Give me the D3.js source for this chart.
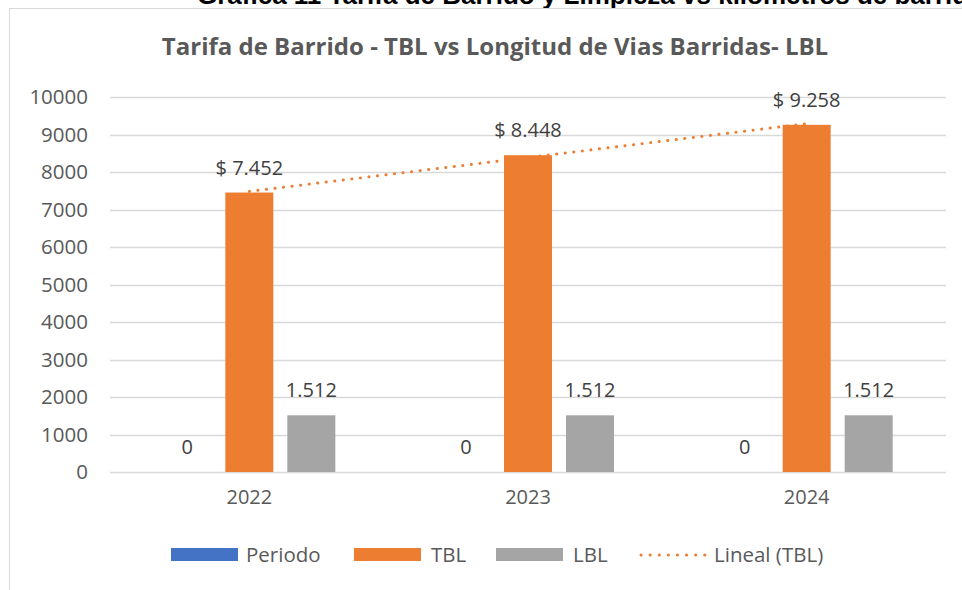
<!DOCTYPE html>
<meta charset="utf-8">
<script src="https://d3js.org/d3.v7.min.js"></script>
<style>
  body { margin: 0; background: #fff; }
  text { font-family: "Open Sans", sans-serif; }
</style>
<svg id="chart" width="962" height="590"></svg>
<script>
// values
var years = ["2022", "2023", "2024"];
var series = ["Periodo", "TBL", "LBL"];
var periodo = [0, 0, 0];
var tbl = [7452, 8448, 9258];
var lbl = [1512, 1512, 1512];
var yTicks = [0, 1000, 2000, 3000, 4000, 5000, 6000, 7000, 8000, 9000, 10000];

var colors = {Periodo: "#4472C4", TBL: "#ED7D31", LBL: "#A5A5A5"};
var values = {Periodo: periodo, TBL: tbl, LBL: lbl};

var svg = d3.select("#chart");

// heading of the document above the chart, cut off by the page top
svg.append("text")
    .attr("x", 197)
    .attr("y", 4)
    .style("font-family", "'Liberation Sans', Arial, sans-serif")
    .style("font-weight", "bold")
    .style("font-size", "26px")
    .attr("fill", "#000")
    .text("Gráfica 11 Tarifa de Barrido y Limpieza vs kilómetros de barrido");

// chart frame
svg.append("rect")
    .attr("x", 9.5).attr("y", 8.5)
    .attr("width", 990).attr("height", 600)
    .attr("fill", "#fff")
    .attr("stroke", "#D9D9D9");

// title
svg.append("text")
    .attr("x", 495)
    .attr("y", 55)
    .attr("text-anchor", "middle")
    .style("font-weight", "bold")
    .style("font-size", "24px")
    .attr("fill", "#595959")
    .text("Tarifa de Barrido - TBL vs Longitud de Vias Barridas- LBL");

var x = d3.scaleBand().domain(years).range([110, 946]);
var inner = d3.scaleBand().domain(series).range([0, 172]).paddingInner(14 / 62);
var y = d3.scaleLinear().domain([0, 10000]).range([472, 97]);

var es = d3.formatLocale({decimal: ",", thousands: ".", grouping: [3], currency: ["$ ", ""]});
var fmt = es.format(",d");

// gridlines
svg.append("g")
  .selectAll("line")
  .data(yTicks)
  .join("line")
    .attr("x1", 110).attr("x2", 946)
    .attr("y1", function (d) { return Math.round(y(d)) + 0.5; })
    .attr("y2", function (d) { return Math.round(y(d)) + 0.5; })
    .attr("stroke", "#D9D9D9")
    .attr("stroke-width", 1.5);

// y axis labels
var yAxis = svg.append("g")
    .attr("transform", "translate(94,0)")
    .call(d3.axisLeft(y).tickValues(yTicks).tickSize(0).tickPadding(6).tickFormat(d3.format("d")));
yAxis.select(".domain").remove();
yAxis.selectAll("text")
    .style("font-family", "'Open Sans', sans-serif")
    .style("font-size", "20.5px")
    .attr("fill", "#595959");

// x axis labels
var xAxis = svg.append("g")
    .attr("transform", "translate(0,472)")
    .call(d3.axisBottom(x).tickSize(0).tickPadding(18));
xAxis.select(".domain").remove();
xAxis.selectAll("text")
    .style("font-family", "'Open Sans', sans-serif")
    .style("font-size", "20px")
    .attr("fill", "#595959");

// bars
var groupOffset = (x.bandwidth() - 172) / 2;
var groups = svg.append("g")
  .selectAll("g")
  .data(years)
  .join("g")
    .attr("transform", function (d) { return "translate(" + (x(d) + groupOffset) + ",0)"; });

groups.each(function (yr, i) {
  var g = d3.select(this);
  series.forEach(function (s) {
    var v = values[s][i];
    g.append("rect")
        .attr("x", inner(s))
        .attr("y", y(v))
        .attr("width", inner.bandwidth())
        .attr("height", y(0) - y(v))
        .attr("fill", colors[s]);
    g.append("text")
        .attr("x", inner(s) + inner.bandwidth() / 2)
        .attr("y", y(v) - 18)
        .attr("text-anchor", "middle")
        .style("font-size", "20px")
        .attr("fill", "#404040")
        .text(s === "TBL" ? "$ " + fmt(v) : fmt(v));
  });
});

// linear trendline of TBL
var n = tbl.length;
var xs = d3.range(1, n + 1);
var mx = d3.mean(xs), my = d3.mean(tbl);
var slope = d3.sum(xs, function (d, i) { return (d - mx) * (tbl[i] - my); }) /
            d3.sum(xs, function (d) { return (d - mx) * (d - mx); });
var icpt = my - slope * mx;
var trend = years.map(function (yr, i) {
  return [x(yr) + x.bandwidth() / 2, y(icpt + slope * (i + 1))];
});
svg.append("path")
    .attr("d", d3.line()(trend))
    .attr("fill", "none")
    .attr("stroke", "#ED7D31")
    .attr("stroke-width", 3)
    .attr("stroke-linecap", "round")
    .attr("stroke-dasharray", "0.1 8.5");

// legend
var legend = [
  {name: "Periodo", x: 171, tx: 246, kind: "rect"},
  {name: "TBL", x: 354, tx: 431, kind: "rect"},
  {name: "LBL", x: 496, tx: 573, kind: "rect"},
  {name: "Lineal (TBL)", x: 639, tx: 714, kind: "line"}
];
var lg = svg.append("g");
legend.forEach(function (d) {
  if (d.kind === "rect") {
    lg.append("rect")
        .attr("x", d.x).attr("y", 548)
        .attr("width", 67).attr("height", 13)
        .attr("fill", colors[d.name]);
  } else {
    lg.append("line")
        .attr("x1", d.x + 2).attr("x2", d.x + 66)
        .attr("y1", 555).attr("y2", 555)
        .attr("stroke", "#ED7D31")
        .attr("stroke-width", 3)
        .attr("stroke-linecap", "round")
        .attr("stroke-dasharray", "0.1 9");
  }
  lg.append("text")
      .attr("x", d.tx).attr("y", 562)
      .style("font-size", "20.5px")
      .attr("fill", "#595959")
      .text(d.name);
});
</script>
